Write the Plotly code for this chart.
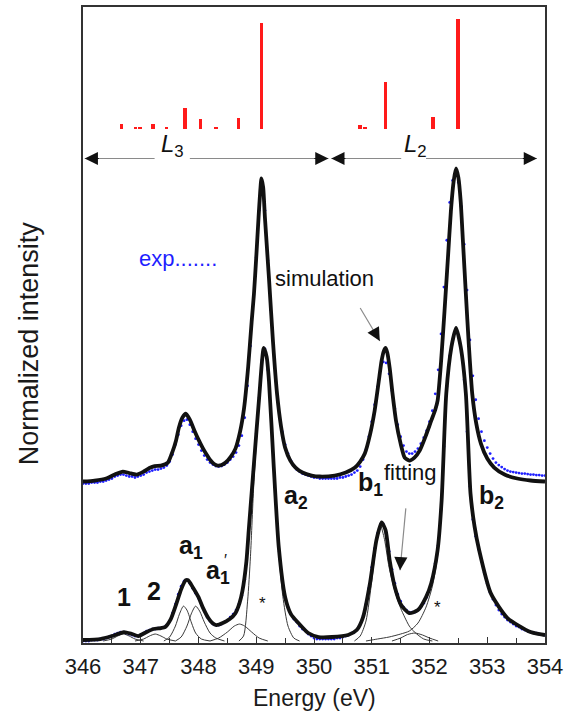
import numpy as np
import plotly.graph_objects as go

# ---------------- data ----------------
# calculated multiplet lines (stick spectrum, drawn on its own baseline)
stick_energy = [346.67, 346.91, 346.99, 347.21, 347.45, 347.77, 348.03, 348.30,
                348.69, 349.09, 350.80, 350.88, 351.24, 352.06, 352.49]
stick_height = [0.05, 0.02, 0.02, 0.05, 0.02, 0.21, 0.10, 0.02,
                0.11, 1.06, 0.04, 0.02, 0.47, 0.12, 1.10]
STICK_BASE = 5.14
SIM_OFFSET = 1.60     # vertical shift of the upper (simulation) pair

# simulated spectrum (upper, relative to SIM_OFFSET)
sim_energy = [346.00, 346.20, 346.40, 346.55, 346.69, 346.80, 346.93, 347.05, 347.15, 347.24,
              347.35, 347.47, 347.55, 347.61, 347.66, 347.72, 347.78, 347.85, 347.93, 348.00,
              348.07, 348.14, 348.21, 348.27, 348.33, 348.40, 348.47, 348.56, 348.64, 348.72,
              348.79, 348.86, 348.92, 348.96, 349.00, 349.04, 349.07, 349.09, 349.12, 349.15,
              349.22, 349.29, 349.36, 349.43, 349.50, 349.59, 349.68, 349.80, 349.96, 350.10,
              350.36, 350.55, 350.71, 350.80, 350.88, 350.97, 351.05, 351.12, 351.17, 351.21,
              351.24, 351.27, 351.31, 351.36, 351.42, 351.50, 351.57, 351.65, 351.74, 351.83,
              351.93, 352.03, 352.10, 352.14, 352.20, 352.26, 352.32, 352.37, 352.42, 352.46,
              352.50, 352.54, 352.58, 352.63, 352.68, 352.74, 352.81, 352.89, 353.00, 353.12,
              353.30, 353.52, 353.75, 354.00]
sim_intensity = [0.00, 0.01, 0.03, 0.07, 0.10, 0.085, 0.07, 0.10, 0.135, 0.155,
                 0.16, 0.19, 0.30, 0.41, 0.54, 0.64, 0.68, 0.62, 0.51, 0.42,
                 0.34, 0.27, 0.21, 0.175, 0.16, 0.165, 0.19, 0.25, 0.33, 0.50,
                 0.74, 1.15, 1.60, 1.88, 2.25, 2.65, 2.92, 3.04, 2.95, 2.65,
                 2.04, 1.40, 0.88, 0.55, 0.34, 0.21, 0.14, 0.09, 0.06, 0.05,
                 0.06, 0.09, 0.14, 0.20, 0.28, 0.47, 0.71, 1.00, 1.21, 1.31,
                 1.34, 1.29, 1.14, 0.88, 0.61, 0.38, 0.24, 0.21, 0.24, 0.31,
                 0.45, 0.61, 0.72, 0.81, 1.20, 1.71, 2.25, 2.71, 3.02, 3.14,
                 3.05, 2.81, 2.40, 1.88, 1.38, 0.88, 0.58, 0.38, 0.23, 0.14,
                 0.07, 0.03, 0.01, 0.00]

# experimental spectrum, 0.05 eV steps from 346.00 to 354.00
exp_energy = np.round(np.arange(346.0, 354.001, 0.05), 2)
exp_upper = [
    -0.02, -0.02, -0.02, -0.01, -0.01, -0.01, 0.00, 0.00, 0.01, 0.02, 0.03, 0.05, 0.06, 0.07, 0.07, 0.06, 0.05, 0.05, 0.04, 0.05,
    0.06, 0.07, 0.09, 0.10, 0.11, 0.12, 0.12, 0.13, 0.14, 0.16, 0.20, 0.27, 0.37, 0.47, 0.56, 0.61, 0.62, 0.57, 0.50, 0.43,
    0.37, 0.31, 0.26, 0.22, 0.19, 0.17, 0.155, 0.15, 0.155, 0.17, 0.19, 0.22, 0.25, 0.29, 0.36, 0.46, 0.64, 0.96, 1.36, 1.80,
    2.25, 2.72, 3.00, 2.72, 2.22, 1.72, 1.28, 0.94, 0.68, 0.50, 0.37, 0.28, 0.21, 0.16, 0.12, 0.10, 0.08, 0.07, 0.06, 0.05,
    0.04, 0.04, 0.03, 0.03, 0.03, 0.03, 0.03, 0.03, 0.03, 0.04, 0.04, 0.05, 0.06, 0.07, 0.09, 0.11, 0.15, 0.22, 0.32, 0.45,
    0.60, 0.77, 0.95, 1.11, 1.20, 1.19, 1.08, 0.91, 0.73, 0.57, 0.45, 0.36, 0.30, 0.28, 0.28, 0.30, 0.33, 0.38, 0.44, 0.51,
    0.60, 0.71, 0.88, 1.12, 1.48, 1.95, 2.42, 2.80, 3.02, 3.09, 3.00, 2.76, 2.38, 1.92, 1.42, 1.06, 0.82, 0.63, 0.50, 0.41,
    0.34, 0.28, 0.23, 0.19, 0.165, 0.145, 0.125, 0.11, 0.10, 0.095, 0.09, 0.085, 0.08, 0.08, 0.075, 0.07, 0.07, 0.065, 0.065, 0.06,
    0.06]
exp_lower = [
    0.00, 0.00, 0.00, 0.01, 0.01, 0.01, 0.02, 0.02, 0.03, 0.04, 0.05, 0.07, 0.08, 0.09, 0.09, 0.08, 0.07, 0.06, 0.05, 0.05,
    0.06, 0.08, 0.10, 0.11, 0.12, 0.12, 0.13, 0.13, 0.14, 0.16, 0.20, 0.28, 0.37, 0.47, 0.55, 0.60, 0.61, 0.58, 0.53, 0.48,
    0.43, 0.36, 0.30, 0.24, 0.20, 0.17, 0.16, 0.16, 0.17, 0.19, 0.21, 0.24, 0.27, 0.31, 0.37, 0.46, 0.62, 0.90, 1.28, 1.70,
    2.08, 2.44, 2.82, 2.93, 2.72, 2.28, 1.78, 1.30, 0.90, 0.62, 0.44, 0.34, 0.27, 0.22, 0.19, 0.15, 0.12, 0.10, 0.07, 0.05,
    0.03, 0.02, 0.02, 0.02, 0.02, 0.02, 0.02, 0.02, 0.03, 0.03, 0.04, 0.05, 0.06, 0.08, 0.09, 0.12, 0.17, 0.25, 0.37, 0.53,
    0.74, 0.93, 1.08, 1.17, 1.17, 1.08, 0.90, 0.72, 0.58, 0.47, 0.40, 0.34, 0.31, 0.29, 0.29, 0.29, 0.31, 0.34, 0.38, 0.44,
    0.52, 0.63, 0.78, 0.96, 1.32, 1.95, 2.55, 2.86, 3.02, 3.12, 3.06, 2.90, 2.62, 2.10, 1.55, 1.22, 1.05, 0.92, 0.80, 0.69,
    0.58, 0.49, 0.42, 0.36, 0.31, 0.27, 0.24, 0.21, 0.19, 0.17, 0.15, 0.14, 0.12, 0.11, 0.10, 0.09, 0.085, 0.08, 0.07, 0.065,
    0.06]

# total fit (lower thick curve)
fit_energy = [346.00, 346.30, 346.50, 346.71, 346.85, 346.96, 347.10, 347.22, 347.35, 347.42,
              347.52, 347.62, 347.70, 347.78, 347.82, 347.90, 348.00, 348.08, 348.17, 348.24,
              348.31, 348.42, 348.54, 348.64, 348.71, 348.76, 348.83, 348.87, 348.96, 349.05,
              349.13, 349.18, 349.22, 349.30, 349.39, 349.50, 349.60, 349.73, 349.90, 350.08,
              350.31, 350.59, 350.74, 350.85, 350.97, 351.08, 351.17, 351.24, 351.31, 351.40,
              351.51, 351.65, 351.80, 351.94, 352.03, 352.14, 352.21, 352.29, 352.38, 352.46,
              352.54, 352.63, 352.71, 352.78, 352.86, 353.06, 353.35, 353.75, 354.00]
fit_intensity = [0.01, 0.02, 0.05, 0.09, 0.07, 0.05, 0.09, 0.12, 0.13, 0.14,
                 0.22, 0.38, 0.52, 0.61, 0.61, 0.54, 0.44, 0.33, 0.23, 0.18,
                 0.16, 0.18, 0.22, 0.28, 0.38, 0.50, 0.80, 1.11, 1.78, 2.44,
                 2.94, 2.85, 2.61, 1.78, 0.94, 0.44, 0.27, 0.18, 0.08, 0.04,
                 0.04, 0.06, 0.11, 0.24, 0.58, 1.01, 1.19, 1.11, 0.81, 0.54,
                 0.36, 0.28, 0.31, 0.44, 0.58, 0.91, 1.41, 2.48, 2.95, 3.14,
                 2.95, 2.48, 1.48, 1.15, 0.91, 0.48, 0.23, 0.09, 0.06]

# individual fit components (thin lines)
comp1_energy = [346.35, 346.50, 346.60, 346.70, 346.80, 346.90, 347.05]
comp1_intensity = [0.00, 0.02, 0.05, 0.07, 0.05, 0.02, 0.00]
comp2_energy = [346.90, 347.05, 347.15, 347.25, 347.35, 347.45, 347.60]
comp2_intensity = [0.00, 0.02, 0.05, 0.07, 0.05, 0.02, 0.00]
comp3_energy = [347.40, 347.50, 347.60, 347.67, 347.74, 347.80, 347.88, 347.95, 348.05, 348.20]
comp3_intensity = [0.00, 0.04, 0.15, 0.27, 0.35, 0.31, 0.18, 0.08, 0.02, 0.00]
comp4_energy = [347.60, 347.70, 347.80, 347.88, 347.95, 348.02, 348.10, 348.20, 348.30, 348.45]
comp4_intensity = [0.00, 0.04, 0.15, 0.28, 0.35, 0.30, 0.19, 0.08, 0.03, 0.00]
comp5_energy = [348.20, 348.35, 348.50, 348.62, 348.71, 348.80, 348.92, 349.05, 349.20]
comp5_intensity = [0.00, 0.03, 0.09, 0.15, 0.17, 0.15, 0.09, 0.03, 0.00]
comp6_energy = [348.70, 348.78, 348.85, 348.90, 348.96, 349.05, 349.12, 349.18, 349.23,
                349.30, 349.38, 349.46, 349.55, 349.65, 349.75]
comp6_intensity = [0.00, 0.05, 0.40, 0.85, 1.60, 2.40, 2.92, 2.82, 2.50,
                   1.72, 0.95, 0.45, 0.15, 0.03, 0.00]
comp7_energy = [350.70, 350.80, 350.90, 351.00, 351.08, 351.15, 351.22, 351.30, 351.40,
                351.50, 351.57, 351.65, 351.74, 351.90, 352.05]
comp7_intensity = [0.00, 0.05, 0.20, 0.60, 0.98, 1.16, 1.02, 0.74, 0.50,
                   0.33, 0.24, 0.15, 0.09, 0.02, 0.00]
comp8_energy = [351.35, 351.50, 351.62, 351.75, 351.88, 352.00, 352.15]
comp8_intensity = [0.00, 0.03, 0.065, 0.08, 0.06, 0.03, 0.00]
comp9_energy = [350.90, 351.10, 351.30, 351.50, 351.65, 351.80, 351.94, 352.05, 352.14,
                352.21, 352.29, 352.38, 352.46, 352.54, 352.63, 352.71, 352.86, 353.06,
                353.35, 353.75, 354.00]
comp9_intensity = [0.00, 0.02, 0.04, 0.07, 0.10, 0.18, 0.34, 0.55, 0.85,
                   1.35, 2.45, 2.94, 3.12, 2.94, 2.46, 1.45, 0.90, 0.47,
                   0.22, 0.08, 0.05]

components = [
    (comp1_energy, comp1_intensity), (comp2_energy, comp2_intensity),
    (comp3_energy, comp3_intensity), (comp4_energy, comp4_intensity),
    (comp5_energy, comp5_intensity), (comp6_energy, comp6_intensity),
    (comp7_energy, comp7_intensity), (comp8_energy, comp8_intensity),
    (comp9_energy, comp9_intensity),
]

# ---------------- styling ----------------
FONT = "Liberation Sans, Arial, sans-serif"
BLUE = "#1f1fff"
INK = "#111111"
AXIS = "#333333"

fig = go.Figure()

# stick spectrum
fig.add_trace(go.Bar(x=stick_energy, y=stick_height, base=STICK_BASE, width=0.06,
                     marker=dict(color="#ff1a1a", line=dict(width=0)), hoverinfo="skip"))

# fit components
for ce, ci in components:
    fig.add_trace(go.Scatter(x=ce, y=ci, mode="lines",
                             line=dict(color="#3a3a3a", width=1, shape="spline", smoothing=0.7)))

# experimental data (dots)
fig.add_trace(go.Scatter(x=exp_energy, y=np.array(exp_upper) + SIM_OFFSET, mode="markers",
                         marker=dict(color=BLUE, size=2.8, line=dict(width=0))))
fig.add_trace(go.Scatter(x=exp_energy, y=exp_lower, mode="markers",
                         marker=dict(color=BLUE, size=2.8, line=dict(width=0))))

# simulation and total fit
fig.add_trace(go.Scatter(x=sim_energy, y=np.array(sim_intensity) + SIM_OFFSET, mode="lines",
                         line=dict(color=INK, width=3.8, shape="spline", smoothing=0.6)))
fig.add_trace(go.Scatter(x=fit_energy, y=fit_intensity, mode="lines",
                         line=dict(color=INK, width=3.8, shape="spline", smoothing=0.6)))

shapes = []
annotations = []


def gray_line(x0, y0, x1, y1):
    shapes.append(dict(type="line", xref="x", yref="y", x0=x0, y0=y0, x1=x1, y1=y1,
                       line=dict(color="#8a8a8a", width=1.2)))


def head(x, y, ax, ay):
    annotations.append(dict(x=x, y=y, ax=ax, ay=ay, xref="x", yref="y", axref="x", ayref="y",
                            text="", showarrow=True, arrowhead=2, arrowsize=2.2,
                            arrowwidth=1.2, arrowcolor="#111"))


# L3 / L2 edge ranges
ARROW_Y = 4.84
gray_line(346.03, ARROW_Y, 347.24, ARROW_Y)
gray_line(347.85, ARROW_Y, 350.25, ARROW_Y)
head(346.03, ARROW_Y, 346.30, ARROW_Y)
head(350.25, ARROW_Y, 349.98, ARROW_Y)
gray_line(350.30, ARROW_Y, 351.51, ARROW_Y)
gray_line(351.94, ARROW_Y, 353.86, ARROW_Y)
head(350.30, ARROW_Y, 350.57, ARROW_Y)
head(353.86, ARROW_Y, 353.59, ARROW_Y)

# pointers to the simulated and fitted curves
gray_line(350.80, 3.34, 351.14, 3.01)
head(351.14, 3.01, 351.06, 3.09)
gray_line(351.59, 1.33, 351.49, 0.71)
head(351.49, 0.71, 351.505, 0.85)


def text(x, y, s, size=22, color=INK, anchor="left", bold=False):
    if bold:
        s = "<b>" + s + "</b>"
    annotations.append(dict(x=x, y=y, xref="x", yref="y", text=s, showarrow=False,
                            xanchor=anchor, yanchor="middle",
                            font=dict(family=FONT, size=size, color=color)))


text(347.55, 4.97, "<i>L</i><sub>3</sub>", size=24, anchor="center")
text(351.75, 4.97, "<i>L</i><sub>2</sub>", size=24, anchor="center")
text(346.93, 3.84, "exp.......", size=22, color=BLUE)
text(349.29, 3.64, "simulation", size=22)
text(351.17, 1.69, "fitting", size=22)
text(349.45, 1.44, "a<sub>2</sub>", size=25, bold=True)
text(350.73, 1.58, "b<sub>1</sub>", size=25, bold=True)
text(352.82, 1.44, "b<sub>2</sub>", size=25, bold=True)
text(347.62, 0.94, "a<sub>1</sub>", size=25, bold=True)
text(348.09, 0.69, "a<sub>1</sub>", size=25, bold=True)
text(348.40, 0.81, "′", size=16)
text(346.56, 0.44, "1", size=25, bold=True)
text(347.07, 0.50, "2", size=25, bold=True)
text(349.10, 0.38, "*", size=17, anchor="center")
text(352.14, 0.34, "*", size=17, anchor="center")

# axis titles
annotations.append(dict(x=-0.118, y=0.472, xref="paper", yref="paper", text="Normalized intensity",
                        showarrow=False, textangle=-90, xanchor="center", yanchor="middle",
                        font=dict(family=FONT, size=27, color="#1a1a1a")))
annotations.append(dict(x=0.5, y=-0.086, xref="paper", yref="paper", text="Energy (eV)",
                        showarrow=False, xanchor="center", yanchor="middle",
                        font=dict(family=FONT, size=23, color="#1a1a1a")))

fig.update_layout(
    width=568, height=713,
    margin=dict(l=83, r=20, t=5, b=70),
    plot_bgcolor="white", paper_bgcolor="white",
    showlegend=False, bargap=0,
    font=dict(family=FONT, color="#1a1a1a"),
    shapes=shapes, annotations=annotations,
)
fig.update_xaxes(
    range=[346, 354], tickvals=list(range(346, 355)), ticktext=[str(v) for v in range(346, 355)],
    ticks="inside", ticklen=6, tickwidth=1.2, tickcolor=AXIS,
    minor=dict(tick0=346, dtick=0.5, ticks="inside", ticklen=5, tickwidth=1.2, tickcolor=AXIS),
    showline=True, linecolor=AXIS, linewidth=2, mirror=True,
    showgrid=False, zeroline=False, tickfont=dict(family=FONT, size=22, color="#1a1a1a"),
    ticklabelstandoff=3,
)
fig.update_yaxes(
    range=[-0.02, 6.36], showticklabels=False, ticks="",
    showline=True, linecolor=AXIS, linewidth=2, mirror=True,
    showgrid=False, zeroline=False,
)

fig.write_html("out.html")
